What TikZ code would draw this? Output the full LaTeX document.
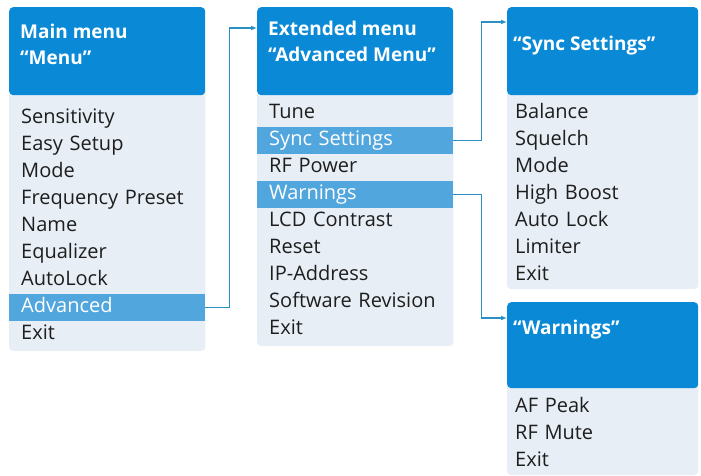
\documentclass[tikz,border=0pt]{standalone}
\usepackage{fontspec}
\setmainfont{Open Sans}
\usepackage{tikz}
\usetikzlibrary{arrows.meta, positioning, calc, backgrounds}
\usepackage{xcolor}
\definecolor{headblue}{HTML}{0A8AD6}
\definecolor{selblue}{HTML}{52A6DE}
\definecolor{bodybg}{HTML}{E7EEF6}
\definecolor{linkblue}{HTML}{2A8FC2}
\definecolor{itemtxt}{HTML}{1E1E1E}
\tikzset{every node/.style={font=\fontsize{20}{26}\selectfont}}

\begin{document}
\begin{tikzpicture}[x=1pt, y=-1pt,
    head/.style={fill=headblue, rounded corners=4pt, anchor=north west, minimum width=196pt, minimum height=88pt, inner sep=0pt},
    title/.style={text=white, font=\fontsize{19}{26}\selectfont\bfseries, align=left, anchor=north west, inner sep=0pt},
    item/.style={anchor=north west, minimum width=196pt, text width=172pt, inner xsep=12pt, inner ysep=0pt, minimum height=26.6pt, text height=14.5pt, text depth=4pt, align=left, text=itemtxt},
    sel/.style={fill=selblue, text=white},
    body/.style={fill=bodybg, rounded corners=4pt},
    link/.style={draw=linkblue, line width=1.3pt, -{Latex[length=6pt, width=5pt]}}]
  \useasboundingbox (0,0) rectangle (701,476);

  % main menu
  \node[head] (h1) at (9,7) {};
  \node[title] (t1) at ([xshift=11pt, yshift=-17pt]h1.north west) {Main menu\\“Menu”};
  \node[item] (m1) at ([yshift=-9.5pt]h1.south west) {Sensitivity};
  \node[item, below=0pt of m1] (m2) {Easy Setup};
  \node[item, below=0pt of m2] (m3) {Mode};
  \node[item, below=0pt of m3] (m4) {Frequency Preset};
  \node[item, below=0pt of m4] (m5) {Name};
  \node[item, below=0pt of m5] (m6) {Equalizer};
  \node[item, below=0pt of m6] (m7) {AutoLock};
  \node[item, sel, below=0pt of m7] (adv) {Advanced};
  \node[item, below=0pt of adv] (m9) {Exit};

  % extended menu
  \node[head] (h2) at (257,7) {};
  \node[title] (t2) at ([xshift=11pt, yshift=-14pt]h2.north west) {Extended menu\\“Advanced Menu”};
  \node[item] (a1) at ([yshift=-4.7pt]h2.south west) {Tune};
  \node[item, sel, below=0pt of a1] (sync) {Sync Settings};
  \node[item, below=0pt of sync] (a3) {RF Power};
  \node[item, sel, below=0pt of a3] (warn) {Warnings};
  \node[item, below=0pt of warn] (a5) {LCD Contrast};
  \node[item, below=0pt of a5] (a6) {Reset};
  \node[item, below=0pt of a6] (a7) {IP-Address};
  \node[item, below=0pt of a7] (a8) {Software Revision};
  \node[item, below=0pt of a8] (a9) {Exit};

  \begin{scope}[head/.append style={minimum width=191pt}, item/.append style={minimum width=191pt, text width=175pt, inner xsep=8pt}]
    % sync settings
    \node[head] (h3) at (507,7) {};
    \node[title] (t3) at ([xshift=6pt, yshift=-29pt]h3.north west) {“Sync Settings”};
    \node[item] (s1) at ([yshift=-4.7pt]h3.south west) {Balance};
    \node[item, below=0pt of s1] (s2) {Squelch};
    \node[item, below=0pt of s2] (s3) {Mode};
    \node[item, below=0pt of s3] (s4) {High Boost};
    \node[item, below=0pt of s4] (s5) {Auto Lock};
    \node[item, below=0pt of s5] (s6) {Limiter};
    \node[item, below=0pt of s6] (s7) {Exit};

    % warnings
    \node[head, minimum height=86pt] (h4) at (507,302) {};
    \node[title] (t4) at ([xshift=6pt, yshift=-18pt]h4.north west) {“Warnings”};
    \node[item] (w1) at ([yshift=-5.7pt]h4.south west) {AF Peak};
    \node[item, below=0pt of w1] (w2) {RF Mute};
    \node[item, below=0pt of w2] (w3) {Exit};
  \end{scope}

  \begin{scope}[on background layer]
    \fill[body] ([yshift=10pt]h1.south west) rectangle ([yshift=-3pt]m9.south east);
    \fill[body] ([yshift=10pt]h2.south west) rectangle ([yshift=-3pt]a9.south east);
    \fill[body] ([yshift=10pt]h3.south west) rectangle (s7.south east);
    \fill[body] ([yshift=10pt]h4.south west) rectangle (w3.south east);
  \end{scope}

  \draw[link] (adv.east) -- ++(24,0) |- ([yshift=-21pt]h2.north west);
  \draw[link] (sync.east) -- ++(28,0) |- ([yshift=-15pt]h3.north west);
  \draw[link] (warn.east) -- ++(28,0) |- ([yshift=-16pt]h4.north west);
\end{tikzpicture}
\end{document}
